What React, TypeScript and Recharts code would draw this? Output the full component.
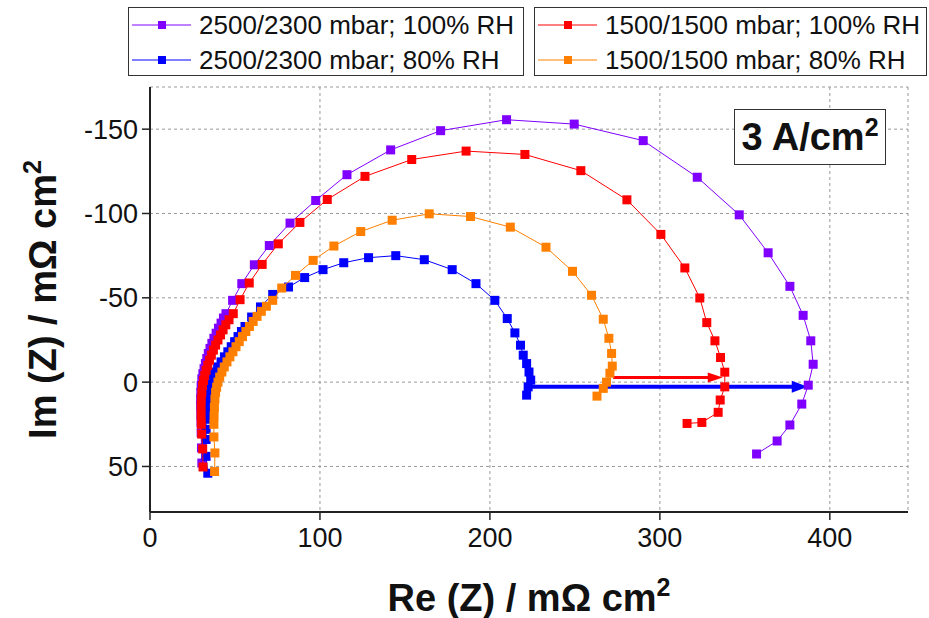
import {
  ScatterChart,
  Scatter,
  XAxis,
  YAxis,
  CartesianGrid,
  ReferenceLine,
} from "recharts";

const FONT = '"Liberation Sans", Arial, sans-serif';

// [Re(Z), Im(Z)] in mOhm cm2
const p2500rh100: [number, number][] = [
  [30.5, 48], [30.3, 39], [30.1, 30], [30, 24], [29.9, 19], [29.8, 14],
  [29.8, 10], [29.9, 6], [30.1, 2], [30.5, -2], [31.1, -5], [31.8, -8],
  [32.6, -11], [33.4, -14], [34.3, -17], [35.3, -20], [36.4, -23], [37.6, -26],
  [38.9, -29], [40.3, -32], [41.8, -35], [43.2, -38], [44.7, -40.6], [48.6, -48.5],
  [54, -58.4], [61.4, -69.6], [70.2, -81], [82.4, -94.3], [97.5, -107.7],
  [115.9, -123], [141.6, -137.7], [171, -149.1], [209.8, -155.6], [249.6, -153],
  [290.2, -143.2], [322, -121.5], [346.7, -99.2], [363.7, -76.7], [376.5, -56.8],
  [384.3, -39.6], [388.8, -24.5], [390.2, -10.6], [387.3, 1.8], [383.5, 13],
  [376.5, 25.4], [369, 34.9], [356.9, 42.6],
];

const p2500rh80: [number, number][] = [
  [34, 54], [33, 44], [33, 34], [33, 28], [33, 22], [33.2, 17], [33.5, 12],
  [34, 8], [34.6, 4], [35.4, 0], [36.5, -3], [38, -6], [39.8, -9], [41.8, -12],
  [43.8, -15], [45.8, -18], [47.8, -21], [49.8, -24], [51.8, -27], [53.8, -30],
  [55.9, -33], [59.8, -38.6], [65, -44.6], [72.2, -52], [81.5, -56.4], [91, -62],
  [101.8, -66.7], [114, -70.8], [128.6, -73.8], [144.6, -75], [161.4, -72.6],
  [177.8, -66.7], [191.8, -58.4], [202.9, -48.5], [210.2, -37.7], [214.7, -29.2],
  [218, -21.9], [219.6, -16], [221.6, -11], [223, -6], [224, -1.2], [222.5, 2.8],
  [221.6, 7.7],
];

const p1500rh100: [number, number][] = [
  [31.2, 50.3], [31, 39.6], [30.4, 30.8], [30.2, 25], [30.1, 20], [30.1, 15],
  [30.2, 10], [30.5, 6], [30.9, 2], [31.5, -1], [32.2, -4], [33, -7], [34, -10],
  [35, -13], [36.1, -16], [37.3, -19], [38.6, -22], [40, -25], [41.5, -28],
  [43, -31], [44.6, -34], [46.5, -37], [49, -40.6], [53, -48.9], [58.4, -58.8],
  [66, -69.8], [75.5, -82], [88.2, -94.7], [104.3, -108.3], [126.5, -122],
  [154, -132], [186, -137], [220.6, -135], [253.5, -125.4], [280.6, -108.1],
  [300.6, -87.6], [314.7, -67.7], [323.5, -49.9], [327.6, -35.3], [332.4, -24.5],
  [335.7, -14.6], [338.2, -5.9], [338.2, 2.8], [335.5, 10.6], [334.3, 17.9],
  [324.7, 23.9], [316, 24.5],
];

const p1500rh80: [number, number][] = [
  [38, 53], [38.2, 42], [37.6, 32.5], [37.6, 25], [37.7, 20], [37.9, 15],
  [38.2, 10], [38.6, 6], [39.2, 3], [40, 0], [41, -3], [42.3, -6], [43.7, -9],
  [45.3, -12], [47, -15], [48.8, -18], [50.6, -21], [52.5, -24], [54.4, -27],
  [56.4, -30], [58.5, -33], [60.7, -36], [63, -39], [65.5, -42], [68.5, -45],
  [72.2, -48.5], [77.5, -55.8], [85.6, -63.3], [96, -72.2], [108.2, -80.7],
  [124, -89.3], [142.5, -96], [164.3, -99.8], [188.6, -98.2], [212, -91.9],
  [233, -80], [248.6, -65.7], [259.8, -51.5], [266.7, -37.3], [270, -26],
  [271.6, -17], [272, -9.5], [270.6, -5.3], [268.6, 0], [266.7, 3.7], [263, 8.3],
];

// shift arrows: start and end of each
const redArrow: [number, number][] = [[272.5, -2.8], [337, -2.8]];
const blueArrow: [number, number][] = [[224, 2.8], [387, 2.8]];

const X_TICKS = [0, 100, 200, 300, 400];
const X_MINOR = [50, 150, 250, 350];
const Y_TICKS = [-150, -100, -50, 0, 50];
const Y_MINOR = [-125, -75, -25, 25, 75];
const X_DOMAIN: [number, number] = [0, 446];
const Y_DOMAIN: [number, number] = [-175, 77];

const series = [
  { name: "2500/2300 mbar; 100% RH", color: "#8000ff", data: p2500rh100 },
  { name: "2500/2300 mbar; 80% RH", color: "#0000ff", data: p2500rh80 },
  { name: "1500/1500 mbar; 100% RH", color: "#ff0000", data: p1500rh100 },
  { name: "1500/1500 mbar; 80% RH", color: "#ff8000", data: p1500rh80 },
];

const toPoints = (arr: [number, number][]) => arr.map(([x, y]) => ({ x, y }));

const squareShape = (color: string) => (props: any) => (
  <rect
    x={props.cx - 4.5}
    y={props.cy - 4.5}
    width={9}
    height={9}
    fill={color}
  />
);

const arrowShape = (color: string, width: number, head: number, half: number) =>
  (props: any) => {
    const { x1, y1, x2, y2 } = props;
    return (
      <g>
        <line
          x1={x1}
          y1={y1}
          x2={x2 - head + 2}
          y2={y2}
          stroke={color}
          strokeWidth={width}
        />
        <polygon
          points={`${x2},${y2} ${x2 - head},${y2 - half} ${x2 - head},${y2 + half}`}
          fill={color}
        />
      </g>
    );
  };

function LegendBox({
  items,
  left,
  width,
}: {
  items: typeof series;
  left: number;
  width: number;
}) {
  return (
    <div
      style={{
        position: "absolute",
        left,
        top: 7,
        width,
        height: 69,
        border: "1px solid #333",
        boxSizing: "border-box",
        background: "#fff",
      }}
    >
      {items.map((s, i) => (
        <div
          key={s.name}
          style={{
            position: "absolute",
            left: 0,
            top: i * 35,
            height: 34,
            display: "flex",
            alignItems: "center",
            whiteSpace: "nowrap",
          }}
        >
          <svg width={66} height={34} style={{ display: "block" }}>
            <line x1={3} y1={17} x2={62} y2={17} stroke={s.color} strokeWidth={1} />
            <rect x={29} y={13} width={8} height={8} fill={s.color} />
          </svg>
          <span
            style={{
              fontFamily: FONT,
              fontSize: 26,
              color: "#111",
              marginLeft: 4,
            }}
          >
            {s.name}
          </span>
        </div>
      ))}
    </div>
  );
}

export default function App() {
  return (
    <div
      style={{
        position: "absolute",
        left: 0,
        top: 0,
        width: 929,
        height: 618,
        background: "#fff",
      }}
    >
      <ScatterChart
        width={929}
        height={618}
        margin={{ top: 87, right: 21, bottom: 0, left: 0 }}
      >
        <CartesianGrid
          xAxisId="main"
          yAxisId="main"
          stroke="#999"
          strokeDasharray="3 3"
        />
        {/* minor ticks, declared first so they share the main axis line */}
        <XAxis
          xAxisId="minor"
          type="number"
          dataKey="x"
          domain={X_DOMAIN}
          ticks={X_MINOR}
          tick={false}
          axisLine={false}
          tickSize={5}
          tickLine={{ stroke: "#222", strokeWidth: 1.5 }}
          height={0}
          allowDataOverflow
        />
        <XAxis
          xAxisId="main"
          type="number"
          dataKey="x"
          domain={X_DOMAIN}
          ticks={X_TICKS}
          tickSize={8}
          tickMargin={8}
          height={106}
          axisLine={{ stroke: "#222", strokeWidth: 2 }}
          tickLine={{ stroke: "#222", strokeWidth: 1.5 }}
          tick={{ fontFamily: FONT, fontSize: 27, fill: "#111" }}
          allowDataOverflow
          label={{
            content: ({ viewBox }: any) => (
              <text
                x={viewBox.x + viewBox.width / 2}
                y={611}
                textAnchor="middle"
                fontFamily={FONT}
                fontSize={38}
                fontWeight="bold"
                fill="#111"
              >
                <tspan>Re (Z) / mΩ cm</tspan>
                <tspan dy={-15} fontSize={25}>2</tspan>
              </text>
            ),
          }}
        />
        <XAxis
          xAxisId="top"
          orientation="top"
          type="number"
          domain={X_DOMAIN}
          height={0}
          tick={false}
          tickLine={false}
          axisLine={{ stroke: "#333", strokeWidth: 2 }}
        />
        <YAxis
          yAxisId="minor"
          type="number"
          dataKey="y"
          domain={Y_DOMAIN}
          reversed
          ticks={Y_MINOR}
          tick={false}
          axisLine={false}
          tickSize={5}
          tickLine={{ stroke: "#222", strokeWidth: 1.5 }}
          width={0}
          allowDataOverflow
        />
        <YAxis
          yAxisId="main"
          type="number"
          dataKey="y"
          domain={Y_DOMAIN}
          reversed
          ticks={Y_TICKS}
          tickSize={8}
          tickMargin={4}
          width={150}
          axisLine={{ stroke: "#222", strokeWidth: 2 }}
          tickLine={{ stroke: "#222", strokeWidth: 1.5 }}
          tick={{ fontFamily: FONT, fontSize: 27, fill: "#111" }}
          allowDataOverflow
          label={{
            content: ({ viewBox }: any) => {
              const cy = viewBox.y + viewBox.height / 2;
              return (
                <text
                  x={56}
                  y={cy}
                  transform={`rotate(-90 56 ${cy})`}
                  textAnchor="middle"
                  fontFamily={FONT}
                  fontSize={38}
                  fontWeight="bold"
                  fill="#111"
                >
                  <tspan>Im (Z) / mΩ cm</tspan>
                  <tspan dy={-15} fontSize={25}>2</tspan>
                </text>
              );
            },
          }}
        />
        <YAxis
          yAxisId="right"
          orientation="right"
          type="number"
          domain={Y_DOMAIN}
          width={0}
          tick={false}
          tickLine={false}
          axisLine={{ stroke: "#333", strokeWidth: 2 }}
        />

        {series.map((s) => (
          <Scatter
            key={s.name}
            name={s.name}
            xAxisId="main"
            yAxisId="main"
            data={toPoints(s.data)}
            line={{ stroke: s.color, strokeWidth: 1 }}
            lineType="joint"
            shape={squareShape(s.color)}
            isAnimationActive={false}
          />
        ))}

        <ReferenceLine
          xAxisId="main"
          yAxisId="main"
          segment={toPoints(redArrow)}
          shape={arrowShape("#ff0000", 3, 15, 5)}
        />
        <ReferenceLine
          xAxisId="main"
          yAxisId="main"
          segment={toPoints(blueArrow)}
          shape={arrowShape("#0000ff", 4, 16, 6)}
        />
      </ScatterChart>

      <div
        style={{
          position: "absolute",
          left: 734,
          top: 109,
          width: 152,
          height: 56,
          border: "1px solid #333",
          boxSizing: "border-box",
          background: "#fff",
          display: "flex",
          alignItems: "center",
          justifyContent: "center",
          fontFamily: FONT,
          fontSize: 38,
          fontWeight: "bold",
          color: "#111",
        }}
      >
        <span>
          3 A/cm
          <span style={{ fontSize: 25, position: "relative", top: -14 }}>2</span>
        </span>
      </div>

      <LegendBox items={series.slice(0, 2)} left={128} width={396} />
      <LegendBox items={series.slice(2, 4)} left={534} width={393} />
    </div>
  );
}
